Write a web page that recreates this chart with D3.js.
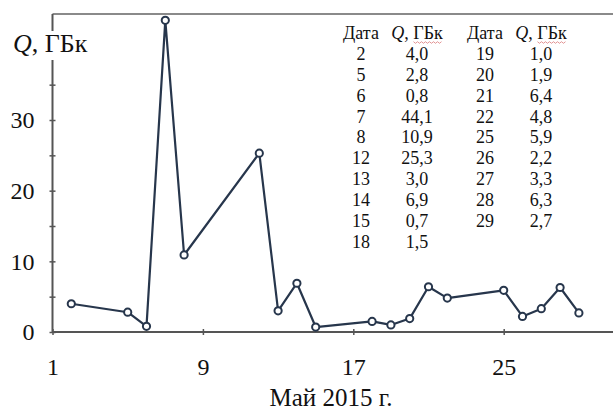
<!DOCTYPE html>
<html>
<head>
<meta charset="utf-8">
<script src="https://cdn.jsdelivr.net/npm/d3@7"></script>
<style>
  body { margin: 0; background: #fff; }
  text { font-family: 'Liberation Serif', 'Times New Roman', serif; fill: #111; }
</style>
</head>
<body>
<div id="chart"></div>
<script>
// Data (май 2015)
const days = [2, 5, 6, 7, 8, 12, 13, 14, 15, 18, 19, 20, 21, 22, 25, 26, 27, 28, 29];
const values = [4.0, 2.8, 0.8, 44.1, 10.9, 25.3, 3.0, 6.9, 0.7, 1.5, 1.0, 1.9, 6.4, 4.8, 5.9, 2.2, 3.3, 6.3, 2.7];
const xTicks = [1, 9, 17, 25];
const yTicks = [0, 5, 10, 15, 20, 25, 30, 35, 40];
const yLabels = [0, 10, 20, 30];

const width = 613;
const height = 410;

const data = days.map((d, i) => ({ day: d, q: values[i] }));

const svg = d3
  .select('#chart')
  .append('svg')
  .attr('width', width)
  .attr('height', height);

const x = d3.scaleLinear().domain([1, 31]).range([52.5, 616.5]);
const y = d3.scaleLinear().domain([0, 45]).range([332, 14]);

// top frame line
svg
  .append('line')
  .attr('x1', x(1))
  .attr('x2', width)
  .attr('y1', y(45))
  .attr('y2', y(45))
  .attr('stroke', '#8a8a8a')
  .attr('stroke-width', 2);

// x axis
const xAxis = svg
  .append('g')
  .attr('transform', `translate(0,${y(0)})`)
  .call(d3.axisBottom(x).tickValues(xTicks).tickSize(6).tickPadding(0));
xAxis.select('.domain').attr('d', `M${x(1)},0H${width}`).attr('stroke', '#555').attr('stroke-width', 2);
xAxis.selectAll('.tick line').attr('y1', -3).attr('y2', 3).attr('stroke', '#555').attr('stroke-width', 1.5);
xAxis
  .selectAll('.tick text')
  .attr('y', 43)
  .attr('dy', null)
  .style('font-size', '24px')
  .style('font-family', "'Liberation Serif', serif")
  .attr('fill', '#111');

// y axis
const yAxis = svg
  .append('g')
  .attr('transform', `translate(${x(1)},0)`)
  .call(d3.axisLeft(y).tickValues(yTicks).tickSize(6).tickFormat((d) => (yLabels.includes(d) ? d : '')));
yAxis.select('.domain').attr('d', `M0,${y(0)}V${y(45)}`).attr('stroke', '#555').attr('stroke-width', 2);
yAxis.selectAll('.tick line').attr('x1', -3).attr('x2', 3).attr('stroke', '#555').attr('stroke-width', 1.5);
yAxis
  .selectAll('.tick text')
  .attr('x', -18)
  .attr('dy', '0.32em')
  .style('font-size', '24px')
  .style('font-family', "'Liberation Serif', serif")
  .attr('fill', '#111');

// y axis name with white box
const yName = svg.append('g');
const yNameText = yName
  .append('text')
  .attr('x', 13)
  .attr('y', 52)
  .style('font-size', '26px');
yNameText.append('tspan').attr('font-style', 'italic').text('Q');
yNameText.append('tspan').text(', ГБк');
const bb = yNameText.node().getBBox();
yName
  .insert('rect', 'text')
  .attr('x', bb.x - 2)
  .attr('y', bb.y + 2)
  .attr('width', bb.width + 4)
  .attr('height', bb.height)
  .attr('fill', '#fff');

// x axis name
svg
  .append('text')
  .attr('x', 331)
  .attr('y', 406)
  .attr('text-anchor', 'middle')
  .style('font-size', '25px')
  .text('Май 2015 г.');

// line
const line = d3
  .line()
  .x((d) => x(d.day))
  .y((d) => y(d.q));

svg
  .append('path')
  .datum(data)
  .attr('d', line)
  .attr('fill', 'none')
  .attr('stroke', '#27364c')
  .attr('stroke-width', 2.2)
  .attr('stroke-linejoin', 'round');

svg
  .selectAll('.pt')
  .data(data)
  .join('circle')
  .attr('class', 'pt')
  .attr('cx', (d) => x(d.day))
  .attr('cy', (d) => y(d.q))
  .attr('r', 3.6)
  .attr('fill', '#fff')
  .attr('stroke', '#27364c')
  .attr('stroke-width', 2);

// table
const fmt = (v) => d3.format('.1f')(v).replace('.', ',');
const cols = [
  { dayX: 361, qX: 417, rows: data.slice(0, 10) },
  { dayX: 485, qX: 541, rows: data.slice(10) },
];
const rowY = d3.scaleLinear().domain([0, 1]).range([60, 80.85]);
const table = svg.append('g').style('font-size', '18px');

cols.forEach((c) => {
  table
    .append('text')
    .attr('x', c.dayX)
    .attr('y', 39)
    .attr('text-anchor', 'middle')
    .text('Дата');
  const h = table.append('text').attr('x', c.qX).attr('y', 39).attr('text-anchor', 'middle');
  h.append('tspan').attr('font-style', 'italic').text('Q');
  h.append('tspan').text(', ГБк');
  // spell-check squiggle under "ГБк"
  const hb = h.node().getBBox();
  const n = h.node().getNumberOfChars();
  const w = h.node().getSubStringLength(n - 3, 3);
  const x0 = hb.x + hb.width - w;
  const x1 = hb.x + hb.width;
  const pts = d3.range(x0, x1 + 0.1, 2).map((px, i) => [px, 42.5 + (i % 2 ? 0.8 : -0.8)]);
  table
    .append('path')
    .attr('d', d3.line()(pts))
    .attr('fill', 'none')
    .attr('stroke', '#e08a8a')
    .attr('stroke-width', 0.9);

  c.rows.forEach((r, i) => {
    table
      .append('text')
      .attr('x', c.dayX)
      .attr('y', rowY(i))
      .attr('text-anchor', 'middle')
      .text(r.day);
    table
      .append('text')
      .attr('x', c.qX)
      .attr('y', rowY(i))
      .attr('text-anchor', 'middle')
      .text(fmt(r.q));
  });
});
</script>
</body>
</html>
